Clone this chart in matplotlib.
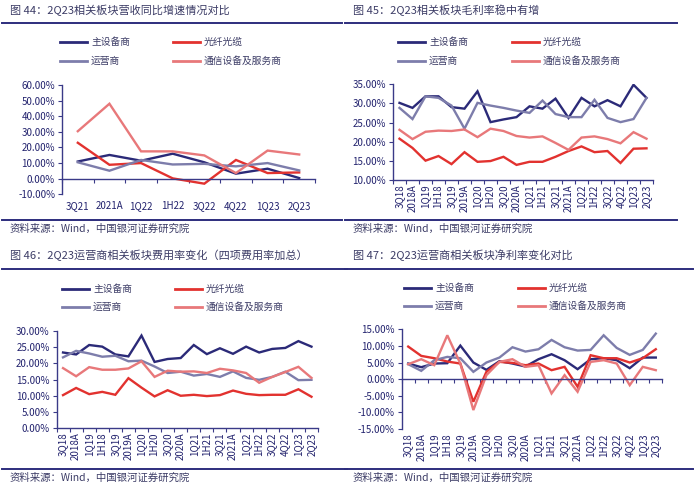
import matplotlib
matplotlib.use('Agg')
import matplotlib.pyplot as plt
from matplotlib.lines import Line2D
from matplotlib.ticker import FuncFormatter, MultipleLocator, FixedLocator

plt.rcParams['font.family'] = ['Noto Sans CJK SC', 'DejaVu Sans']

W, H = 700, 491

series_names = ['主设备商', '光纤光缆', '运营商', '通信设备及服务商']
colors = ['#2b2a78', '#e2322f', '#7d7dab', '#e8787a']

# chart 44: revenue yoy growth (%)
cats_44 = ['3Q21', '2021A', '1Q22', '1H22', '3Q22', '4Q22', '1Q23', '2Q23']
main_44 = [11.0, 15.2, 11.5, 16.0, 10.5, 3.2, 6.4, 0.4]
fiber_44 = [23.0, 8.9, 10.0, 0.2, -3.2, 12.0, 3.6, 4.0]
oper_44 = [10.5, 5.1, 12.0, 9.1, 9.5, 7.9, 10.0, 5.3]
svc_44 = [30.4, 48.0, 17.5, 17.5, 14.9, 3.6, 18.0, 15.5]

# quarterly labels for charts 45-47
cats_q = ['3Q18', '2018A', '1Q19', '1H18', '3Q19', '2019A', '1Q20', '1H20', '3Q20', '2020A',
          '1Q21', '1H21', '3Q21', '2021A', '1Q22', '1H22', '3Q22', '4Q22', '1Q23', '2Q23']

# chart 45: gross margin (%)
main_45 = [30.1, 28.8, 31.8, 31.8, 29.0, 28.6, 33.1, 25.1, 25.8, 26.4,
           29.2, 28.6, 31.2, 26.2, 31.4, 29.2, 30.8, 29.2, 34.8, 31.4]
fiber_45 = [20.8, 18.4, 15.1, 16.3, 14.2, 17.3, 14.8, 15.0, 16.1, 14.0,
            14.8, 14.8, 16.1, 17.6, 18.8, 17.3, 17.6, 14.5, 18.2, 18.3]
oper_45 = [28.8, 25.9, 31.8, 31.4, 29.4, 23.4, 30.1, 29.4, 28.8, 28.1,
           27.5, 30.7, 27.2, 26.4, 26.4, 30.9, 26.2, 25.1, 25.9, 31.4]
svc_45 = [23.1, 20.7, 22.6, 22.9, 22.8, 23.2, 21.2, 23.4, 22.8, 21.5,
          21.1, 21.4, 19.7, 17.9, 21.1, 21.4, 20.7, 19.6, 22.5, 20.8]

# chart 46: expense ratio (%)
main_46 = [23.3, 22.7, 25.6, 25.1, 22.7, 22.1, 28.5, 20.4, 21.3, 21.6,
           25.6, 22.8, 24.6, 22.9, 25.1, 23.3, 24.4, 24.7, 26.8, 25.1]
fiber_46 = [10.2, 12.4, 10.5, 11.2, 10.3, 15.4, 12.5, 9.8, 11.7, 10.0,
            10.3, 9.9, 10.2, 11.6, 10.6, 10.2, 10.3, 10.3, 12.0, 9.7]
oper_46 = [21.8, 23.8, 23.0, 22.0, 22.3, 20.6, 20.8, 19.0, 17.0, 17.4,
           16.2, 16.7, 15.8, 17.5, 15.5, 14.9, 15.8, 17.4, 14.8, 14.9]
svc_46 = [18.5, 16.0, 18.8, 18.0, 18.0, 18.4, 20.6, 15.8, 17.7, 17.4,
          17.5, 17.0, 18.3, 17.8, 17.0, 14.0, 15.8, 17.3, 18.9, 15.5]

# chart 47: net margin (%)
main_47 = [4.7, 3.6, 4.7, 4.8, 10.1, 5.0, 2.8, 5.4, 4.7, 3.8,
           6.0, 7.5, 5.7, 3.0, 6.0, 6.3, 5.7, 3.3, 6.5, 6.5]
fiber_47 = [9.8, 7.0, 6.3, 5.3, 4.7, -6.8, 2.2, 5.2, 4.9, 4.2,
            4.7, 2.7, 3.7, -2.3, 7.2, 6.3, 6.3, 5.0, 6.3, 9.0]
oper_47 = [4.5, 2.5, 5.7, 6.7, 6.3, 2.2, 5.0, 6.5, 9.6, 8.3,
           9.0, 11.8, 9.6, 8.6, 8.8, 13.2, 9.4, 7.3, 8.8, 13.7]
svc_47 = [4.5, 6.0, 4.2, 13.2, 4.7, -9.3, 1.2, 5.2, 6.0, 3.7,
          4.2, -4.3, 1.2, -3.8, 5.2, 5.7, 4.7, -1.8, 3.7, 2.7]

title_color = '#3c3c66'
axis_color = '#3a3a88'
rule_color = '#2d2d7d'
tick_color = '#23236e'

fig = plt.figure(figsize=(W / 100, H / 100), dpi=100)


def fx(x):
    return x / W


def fy(y):
    return 1 - y / H


def add_axes_px(x0, y_top, x1, y_bot):
    return fig.add_axes([fx(x0), fy(y_bot), (x1 - x0) / W, (y_bot - y_top) / H])


def hrule(x0, x1, y):
    fig.add_artist(Line2D([fx(x0), fx(x1)], [fy(y), fy(y)], color=rule_color, lw=1.4))


def panel_frame(x0, x1, title, y_title, y_rule, y_rule2, y_src):
    fig.text(fx(x0 + 8), fy(y_title), title, fontsize=8, color=title_color, va='center')
    hrule(x0, x1, y_rule)
    hrule(x0, x1, y_rule2)
    fig.text(fx(x0 + 8), fy(y_src), '资料来源：Wind，中国银河证券研究院', fontsize=7.5,
             color=title_color, va='center', style='italic')


def legend_px(x_col1, x_col2, y_row1, y_row2):
    pos = [(x_col1, y_row1), (x_col2, y_row1), (x_col1, y_row2), (x_col2, y_row2)]
    for (x, y), name, c in zip(pos, series_names, colors):
        fig.add_artist(Line2D([fx(x), fx(x + 27)], [fy(y), fy(y)], color=c, lw=2.0))
        fig.text(fx(x + 31), fy(y), name, fontsize=7, color=title_color, va='center')


def draw_lines(ax, cats, series, ylim, step, rotate, zero_spine=False, label_pad=3):
    # move the spine first: set_position resets the tick objects
    if zero_spine:
        ax.spines['bottom'].set_position(('data', 0))
    x = list(range(len(cats)))
    for vals, c in zip(series, colors):
        ax.plot(x, vals, color=c, lw=1.7, solid_joinstyle='miter')
    ax.set_xlim(-0.5, len(cats) - 0.5)
    ax.set_ylim(*ylim)
    ax.yaxis.set_major_locator(MultipleLocator(step))
    ax.yaxis.set_major_formatter(FuncFormatter(lambda v, p: '{:.2f}%'.format(v)))
    ax.set_xticks(x)
    ax.set_xticklabels(cats, rotation=90 if rotate else 0)
    ax.xaxis.set_minor_locator(FixedLocator([i - 0.5 for i in range(len(cats) + 1)]))
    ax.tick_params(axis='x', which='major', length=0, labelsize=7, colors=tick_color, pad=label_pad)
    ax.tick_params(axis='x', which='minor', length=3, color=axis_color, width=0.8)
    ax.tick_params(axis='y', which='major', length=3, color=axis_color, width=0.8,
                   labelsize=7, labelcolor=tick_color, pad=2)
    for s in ['top', 'right']:
        ax.spines[s].set_visible(False)
    for s in ['left', 'bottom']:
        ax.spines[s].set_color(axis_color)
        ax.spines[s].set_linewidth(1.0)
    ax.patch.set_alpha(0)


# panel 44
panel_frame(2, 342, '图 44：2Q23相关板块营收同比增速情况对比', 10, 23, 220, 229)
legend_px(60, 173, 42, 61)
ax44 = add_axes_px(62, 85, 315, 194.3)
draw_lines(ax44, cats_44, [main_44, fiber_44, oper_44, svc_44], (-10, 60), 10,
           rotate=False, zero_spine=True, label_pad=16)

# panel 45
panel_frame(345, 677, '图 45：2Q23相关板块毛利率稳中有增', 10, 23, 220, 229)
legend_px(398, 512, 42, 61)
ax45 = add_axes_px(393, 84, 653, 180.3)
draw_lines(ax45, cats_q, [main_45, fiber_45, oper_45, svc_45], (10, 35), 5, rotate=True)

# panel 46
panel_frame(2, 347, '图 46：2Q23运营商相关板块费用率变化（四项费用率加总）', 255, 269, 469, 478)
legend_px(62, 175, 289, 307)
ax46 = add_axes_px(56.5, 330.7, 318, 428.3)
draw_lines(ax46, cats_q, [main_46, fiber_46, oper_46, svc_46], (0, 30), 5, rotate=True)

# panel 47
panel_frame(345, 693, '图 47：2Q23运营商相关板块净利率变化对比', 255, 269, 469, 478)
legend_px(404, 518, 288, 306)
ax47 = add_axes_px(401.7, 329.3, 662.3, 429)
draw_lines(ax47, cats_q, [main_47, fiber_47, oper_47, svc_47], (-15, 15), 5,
           rotate=True, zero_spine=True, label_pad=39)

fig.savefig('out.png', dpi=100)
